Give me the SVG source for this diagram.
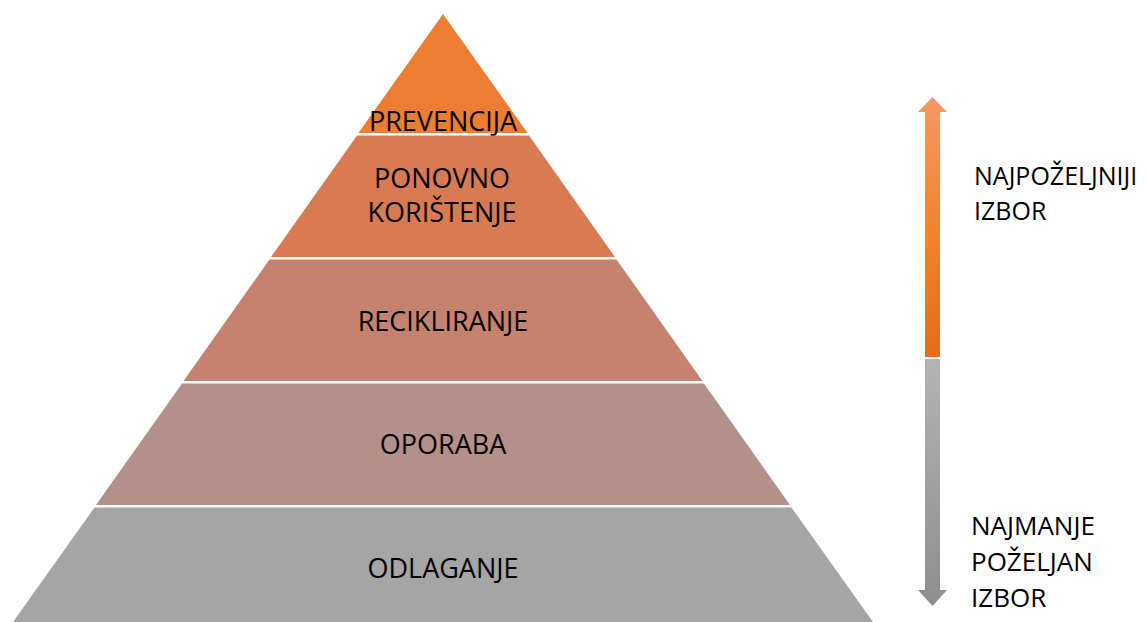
<svg xmlns="http://www.w3.org/2000/svg" width="1147" height="622" viewBox="0 0 1147 622">
<style>
text{font-family:"Open Sans","Liberation Sans",sans-serif;font-size:27px;fill:#000}
.c{text-anchor:middle}
.r{font-size:26px}
.t{font-size:25px}
</style>
<defs>
<linearGradient id="go" x1="0" y1="0" x2="0" y2="1">
<stop offset="0" stop-color="#F19A66"/>
<stop offset="0.5" stop-color="#F0842F"/>
<stop offset="1" stop-color="#E46C1C"/>
</linearGradient>
<linearGradient id="gg" x1="0" y1="0" x2="0" y2="1">
<stop offset="0" stop-color="#B3B3B3"/>
<stop offset="1" stop-color="#8E8E8E"/>
</linearGradient>
</defs>
<g id="prevencija">
<polygon points="443,14 527.6,133 358.4,133" fill="#ED7D31"/>
<text class="c" x="443" y="131">PREVENCIJA</text>
</g>
<g id="ponovno">
<polygon points="357,135.5 529,135.5 615,257 271,257" fill="#D87B53"/>
<text class="c" x="442" y="188">PONOVNO</text>
<text class="c" x="442" y="222">KORIŠTENJE</text>
</g>
<g id="recikliranje">
<polygon points="269.5,259.5 616.5,259.5 702.5,381 183.5,381" fill="#C5826F"/>
<text class="c" x="443" y="331">RECIKLIRANJE</text>
</g>
<g id="oporaba">
<polygon points="182,383.5 704,383.5 790,505 96,505" fill="#B4908A"/>
<text class="c" x="443" y="454">OPORABA</text>
</g>
<g id="odlaganje">
<polygon points="94.5,507.5 791.5,507.5 873,622 13,622" fill="#A5A5A5"/>
<text class="c" x="443" y="578">ODLAGANJE</text>
</g>
<g id="connectors">
<polygon points="932.5,97 947,112 940,112 940,357 925,357 925,112 918,112" fill="url(#go)"/>
<polygon points="925,359 940,359 940,590 947,590 932.5,606 918,590 925,590" fill="url(#gg)"/>
</g>
<g id="labels">
<text class="t" x="974" y="185">NAJPOŽELJNIJI</text>
<text class="t" x="974" y="220">IZBOR</text>
<text class="r" x="971" y="535">NAJMANJE</text>
<text class="r" x="971" y="571">POŽELJAN</text>
<text class="r" x="971" y="607">IZBOR</text>
</g>
</svg>
